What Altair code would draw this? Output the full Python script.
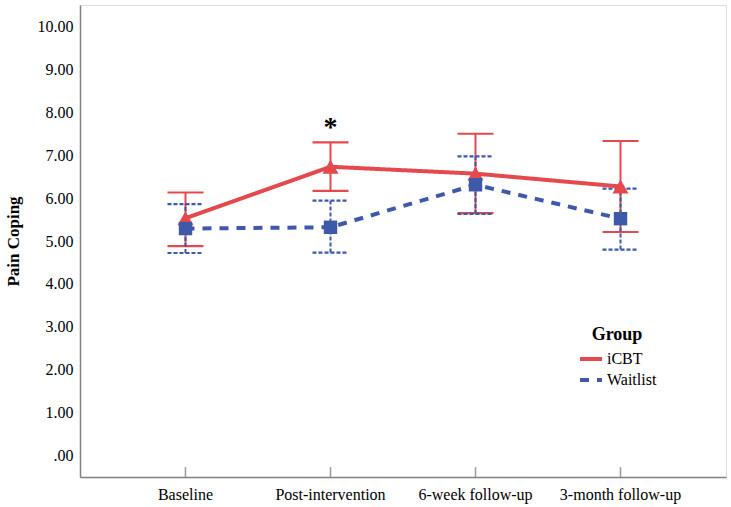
import altair as alt
import pandas as pd

times = ["Baseline", "Post-intervention", "6-week follow-up", "3-month follow-up"]
groups = ["iCBT", "Waitlist"]
icbt_mean = [5.53, 6.73, 6.57, 6.27]
icbt_lo = [4.88, 6.17, 5.65, 5.21]
icbt_hi = [6.13, 7.30, 7.50, 7.33]
wl_mean = [5.29, 5.32, 6.31, 5.52]
wl_lo = [4.72, 4.73, 5.63, 4.80]
wl_hi = [5.86, 5.94, 6.97, 6.22]
star_time = ["Post-intervention"]
star_y = [7.76]
y_ticks = [0, 1, 2, 3, 4, 5, 6, 7, 8, 9, 10]

RED = "#E5484D"
BLUE = "#3D59A8"
FONT = "Liberation Serif"

rows = []
for g, m, lo, hi in [("iCBT", icbt_mean, icbt_lo, icbt_hi), ("Waitlist", wl_mean, wl_lo, wl_hi)]:
    for t, a, b, c in zip(times, m, lo, hi):
        rows.append({"time": t, "Group": g, "mean": a, "lo": b, "hi": c})
df = pd.DataFrame(rows)
ticks_df = pd.DataFrame({"time": times, "y0": [-0.5] * 4, "y1": [-0.27] * 4})
star_df = pd.DataFrame({"time": star_time, "y": star_y, "t": ["*"]})

xscale = alt.Scale(domain=times, padding=0.455)
yscale = alt.Scale(domain=[-0.5, 10.5], nice=False, zero=False)
xenc = alt.X("time:N", scale=xscale, sort=times,
             axis=alt.Axis(title=None, ticks=False, labelAngle=0, labelPadding=9, grid=False))
yenc_axis = alt.Axis(values=y_ticks, ticks=False, grid=False, labelPadding=7,
                     labelExpr="datum.value == 0 ? '.00' : format(datum.value, '.2f')",
                     title="Pain Coping", titlePadding=15)

color = alt.Color("Group:N", scale=alt.Scale(domain=groups, range=[RED, BLUE]),
                  legend=alt.Legend(title="Group", orient="none", legendX=498, legendY=321,
                                    titleAnchor="middle", titlePadding=2,
                                    symbolType="stroke", symbolSize=484, symbolStrokeWidth=4,
                                    labelOffset=3, rowPadding=0))
dash = alt.StrokeDash("Group:N", scale=alt.Scale(domain=groups, range=[[1, 0], [9, 8]]),
                      legend=alt.Legend(title="Group"))

base = alt.Chart(df)

ticks = alt.Chart(ticks_df).mark_rule(color="#9a9a9a", strokeWidth=1.5).encode(
    x=xenc, y=alt.Y("y0:Q", scale=yscale, axis=yenc_axis), y2="y1:Q")

def err_layers(g, col, d):
    sub = base.transform_filter(alt.datum.Group == g)
    v = sub.mark_rule(color=col, strokeWidth=2, strokeDash=d).encode(
        x=alt.X("time:N", scale=xscale, sort=times),
        y=alt.Y("lo:Q", scale=yscale), y2="hi:Q")
    top = sub.mark_rule(color=col, strokeWidth=2.2, strokeDash=d, xOffset=-18, x2Offset=18).encode(
        x=alt.X("time:N", scale=xscale, sort=times), x2="time:N",
        y=alt.Y("hi:Q", scale=yscale))
    bot = sub.mark_rule(color=col, strokeWidth=2.2, strokeDash=d, xOffset=-18, x2Offset=18).encode(
        x=alt.X("time:N", scale=xscale, sort=times), x2="time:N",
        y=alt.Y("lo:Q", scale=yscale))
    return [v, top, bot]

def pts(g, col, shape, size):
    return base.transform_filter(alt.datum.Group == g).mark_point(
        filled=True, opacity=1, color=col, shape=shape, size=size).encode(
        x=alt.X("time:N", scale=xscale, sort=times),
        y=alt.Y("mean:Q", scale=yscale))

lines = base.mark_line(strokeWidth=4).encode(
    x=alt.X("time:N", scale=xscale, sort=times),
    y=alt.Y("mean:Q", scale=yscale),
    color=color, strokeDash=dash, order=alt.Order("Group:N"))

star = alt.Chart(star_df).mark_text(fontSize=28, fontWeight="bold",
                                    color="black", baseline="middle", dy=5).encode(
    x=alt.X("time:N", scale=xscale, sort=times), y=alt.Y("y:Q", scale=yscale), text="t:N")

layers = [ticks] + err_layers("iCBT", RED, [1, 0]) + err_layers("Waitlist", BLUE, [4, 2]) + [
    lines, pts("iCBT", RED, "triangle-up", 260), pts("Waitlist", BLUE, "square", 180), star]

chart = alt.layer(*layers).properties(
    width=646, height=472,
    autosize=alt.AutoSizeParams(type="none"),
    padding={"left": 80, "top": 5, "right": 5, "bottom": 30},
).configure_view(stroke=None).configure(background="white", font=FONT).configure_axis(
    labelFont=FONT, labelFontSize=16, labelColor="black",
    titleFont=FONT, titleFontSize=17, titleFontWeight="bold", titleColor="black",
    domainColor="#808080", domainWidth=1.5,
).configure_legend(
    titleFont=FONT, titleFontSize=18, titleFontWeight="bold", titleColor="black",
    labelFont=FONT, labelFontSize=16, labelColor="black",
).configure_text(font=FONT)

chart.save("out.html", embed_options={"renderer": "svg", "actions": False})
